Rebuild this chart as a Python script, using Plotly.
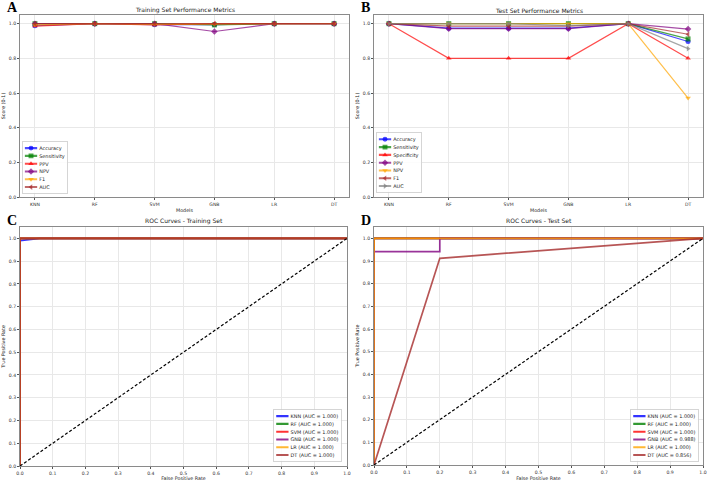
import plotly.graph_objects as go

# ---------------- data ----------------
models = ["KNN", "RF", "SVM", "GNB", "LR", "DT"]

train_metric_names = ["Accuracy", "Sensitivity", "PPV", "NPV", "F1", "AUC"]
train_accuracy = [0.988, 1.0, 0.994, 0.994, 1.0, 1.0]
train_sensitivity = [1.0, 1.0, 1.0, 0.993, 1.0, 1.0]
train_ppv = [0.986, 1.0, 0.993, 1.0, 1.0, 1.0]
train_npv = [1.0, 1.0, 1.0, 0.955, 1.0, 1.0]
train_f1 = [0.993, 1.0, 0.996, 0.996, 1.0, 1.0]
train_auc = [1.0, 1.0, 1.0, 1.0, 1.0, 1.0]

test_metric_names = ["Accuracy", "Sensitivity", "Specificity", "PPV", "NPV", "F1", "AUC"]
test_accuracy = [1.0, 0.974, 0.974, 0.974, 1.0, 0.897]
test_sensitivity = [1.0, 1.0, 1.0, 1.0, 1.0, 0.912]
test_specificity = [1.0, 0.8, 0.8, 0.8, 1.0, 0.8]
test_ppv = [1.0, 0.971, 0.971, 0.971, 1.0, 0.969]
test_npv = [1.0, 1.0, 1.0, 1.0, 1.0, 0.571]
test_f1 = [1.0, 0.986, 0.986, 0.986, 1.0, 0.939]
test_auc = [1.0, 1.0, 1.0, 0.988, 1.0, 0.856]

roc_models = ["KNN", "RF", "SVM", "GNB", "LR", "DT"]
train_auc_labels = [1.000, 1.000, 1.000, 1.000, 1.000, 1.000]
test_auc_labels = [1.000, 1.000, 1.000, 0.988, 1.000, 0.856]

train_roc_fpr = [
    [0.0, 0.0, 0.06, 1.0],
    [0.0, 0.0, 1.0],
    [0.0, 0.0, 1.0],
    [0.0, 0.0, 1.0],
    [0.0, 0.0, 1.0],
    [0.0, 0.0, 1.0],
]
train_roc_tpr = [
    [0.0, 0.99, 1.0, 1.0],
    [0.0, 1.0, 1.0],
    [0.0, 1.0, 1.0],
    [0.0, 1.0, 1.0],
    [0.0, 1.0, 1.0],
    [0.0, 1.0, 1.0],
]
test_roc_fpr = [
    [0.0, 0.0, 1.0],
    [0.0, 0.0, 1.0],
    [0.0, 0.0, 1.0],
    [0.0, 0.0, 0.2, 0.2, 1.0],
    [0.0, 0.0, 1.0],
    [0.0, 0.2, 1.0],
]
test_roc_tpr = [
    [0.0, 1.0, 1.0],
    [0.0, 1.0, 1.0],
    [0.0, 1.0, 1.0],
    [0.0, 0.941, 0.941, 1.0, 1.0],
    [0.0, 1.0, 1.0],
    [0.0, 0.912, 1.0],
]
chance_x = [0.0, 1.0]
chance_y = [0.0, 1.0]

fpr_ticks = [0.0, 0.1, 0.2, 0.3, 0.4, 0.5, 0.6, 0.7, 0.8, 0.9, 1.0]
score_ticks = [0.0, 0.2, 0.4, 0.6, 0.8, 1.0]

# ---------------- styles ----------------
W, H = 708, 481
BASE = {"blue": (0, 0, 255), "green": (0, 128, 0), "red": (255, 0, 0),
        "purple": (128, 0, 128), "orange": (255, 165, 0), "brown": (165, 42, 42),
        "gray": (128, 128, 128)}


def rgba(name, a):
    r, g, b = BASE[name]
    return f"rgba({r},{g},{b},{a})"


color_seq = ["blue", "green", "red", "purple", "orange", "brown", "gray"]
symbol_seq = ["circle", "square", "triangle-up", "diamond", "triangle-down",
              "triangle-left", "triangle-right"]
FONT = "DejaVu Sans"


def dx(a, b):
    return [a / W, b / W]


def dy(top, bottom):
    return [1 - bottom / H, 1 - top / H]


fig = go.Figure()

train_series = [train_accuracy, train_sensitivity, train_ppv, train_npv, train_f1, train_auc]
for i, (name, vals) in enumerate(zip(train_metric_names, train_series)):
    c = rgba(color_seq[i], 0.7)
    fig.add_trace(go.Scatter(
        x=models, y=vals, name=name, mode="lines+markers",
        line=dict(color=c, width=1.2),
        marker=dict(symbol=symbol_seq[i], size=5, color=c),
        xaxis="x", yaxis="y", legend="legend"))

test_series = [test_accuracy, test_sensitivity, test_specificity, test_ppv,
               test_npv, test_f1, test_auc]
for i, (name, vals) in enumerate(zip(test_metric_names, test_series)):
    c = rgba(color_seq[i], 0.7)
    fig.add_trace(go.Scatter(
        x=models, y=vals, name=name, mode="lines+markers",
        line=dict(color=c, width=1.2),
        marker=dict(symbol=symbol_seq[i], size=5, color=c),
        xaxis="x2", yaxis="y2", legend="legend2"))

for i, m in enumerate(roc_models):
    fig.add_trace(go.Scatter(
        x=train_roc_fpr[i], y=train_roc_tpr[i], mode="lines",
        name=f"{m} (AUC = {train_auc_labels[i]:.3f})",
        line=dict(color=rgba(color_seq[i], 0.8), width=1.7),
        xaxis="x3", yaxis="y3", legend="legend3"))
fig.add_trace(go.Scatter(x=chance_x, y=chance_y, mode="lines", showlegend=False,
                         line=dict(color="black", width=1.2, dash="3px,2px"),
                         xaxis="x3", yaxis="y3"))

for i, m in enumerate(roc_models):
    fig.add_trace(go.Scatter(
        x=test_roc_fpr[i], y=test_roc_tpr[i], mode="lines",
        name=f"{m} (AUC = {test_auc_labels[i]:.3f})",
        line=dict(color=rgba(color_seq[i], 0.8), width=1.7),
        xaxis="x4", yaxis="y4", legend="legend4"))
fig.add_trace(go.Scatter(x=chance_x, y=chance_y, mode="lines", showlegend=False,
                         line=dict(color="black", width=1.2, dash="3px,2px"),
                         xaxis="x4", yaxis="y4"))

axis_common = dict(showline=True, mirror=True, linecolor="#8a8a8a", linewidth=1,
                   showgrid=True, gridcolor="#e8e8e8", gridwidth=0.7,
                   ticks="outside", ticklen=2, tickcolor="#555",
                   tickfont=dict(size=4.6, family=FONT, color="#333"),
                   zeroline=False, automargin=False)
title_font = dict(size=4.8, family=FONT, color="#222")

layout = dict(
    width=W, height=H, margin=dict(l=0, r=0, t=0, b=0),
    paper_bgcolor="white", plot_bgcolor="white", showlegend=True,
    font=dict(family=FONT),
    xaxis=dict(axis_common, domain=dx(20, 349), anchor="y", type="category",
               range=[-0.25, 5.25],
               title=dict(text="Models", font=title_font, standoff=3)),
    yaxis=dict(axis_common, domain=dy(15, 197), anchor="x", range=[0, 1.05],
               tickvals=score_ticks, tickformat=".1f",
               title=dict(text="Score (0-1)", font=title_font, standoff=3)),
    xaxis2=dict(axis_common, domain=dx(374, 703), anchor="y2", type="category",
                range=[-0.25, 5.25],
                title=dict(text="Models", font=title_font, standoff=3)),
    yaxis2=dict(axis_common, domain=dy(15, 197), anchor="x2", range=[0, 1.05],
                tickvals=score_ticks, tickformat=".1f",
                title=dict(text="Score (0-1)", font=title_font, standoff=3)),
    xaxis3=dict(axis_common, domain=dx(20, 347), anchor="y3", range=[0, 1],
                tickvals=fpr_ticks, tickformat=".1f",
                title=dict(text="False Positive Rate", font=title_font, standoff=3)),
    yaxis3=dict(axis_common, domain=dy(227, 466), anchor="x3", range=[0, 1.05],
                tickvals=fpr_ticks, tickformat=".1f",
                title=dict(text="True Positive Rate", font=title_font, standoff=3)),
    xaxis4=dict(axis_common, domain=dx(374, 703), anchor="y4", range=[0, 1],
                tickvals=fpr_ticks, tickformat=".1f",
                title=dict(text="False Positive Rate", font=title_font, standoff=3)),
    yaxis4=dict(axis_common, domain=dy(227, 465), anchor="x4", range=[0, 1.05],
                tickvals=fpr_ticks, tickformat=".1f",
                title=dict(text="True Positive Rate", font=title_font, standoff=3)),
)

leg_common = dict(font=dict(size=12, family=FONT, color="#222"),
                  bgcolor="rgba(255,255,255,0.85)", bordercolor="#cccccc",
                  borderwidth=2, itemsizing="constant", tracegroupgap=0)
layout["legend"] = dict(leg_common, x=22 / W, y=1 - 195 / H, xanchor="left", yanchor="bottom")
layout["legend2"] = dict(leg_common, x=376 / W, y=1 - 194 / H, xanchor="left", yanchor="bottom")
layout["legend3"] = dict(leg_common, x=343 / W, y=1 - 463 / H, xanchor="right", yanchor="bottom")
layout["legend4"] = dict(leg_common, x=700 / W, y=1 - 463 / H, xanchor="right", yanchor="bottom")

fig.update_layout(**layout)

# subplot titles and panel letters
titles = [("Training Set Performance Metrics", (20 + 349) / 2, 10),
          ("Test Set Performance Metrics", (374 + 703) / 2, 10),
          ("ROC Curves - Training Set", (20 + 347) / 2, 221),
          ("ROC Curves - Test Set", (374 + 703) / 2, 221)]
for text, cx, cy in titles:
    fig.add_annotation(text=text, x=cx / W, y=1 - cy / H, xref="paper", yref="paper",
                       showarrow=False, xanchor="center", yanchor="middle",
                       font=dict(size=6, family=FONT, color="#222"))

letters = [("A", 12, 7), ("B", 366, 7), ("C", 12, 221), ("D", 366, 221)]
for text, cx, cy in letters:
    fig.add_annotation(text=f"<b>{text}</b>", x=cx / W, y=1 - cy / H, xref="paper",
                       yref="paper", showarrow=False, xanchor="center", yanchor="middle",
                       font=dict(size=14, family="Liberation Serif", color="black"))

post = r"""
var gd = document.getElementById('{plot_id}');
var cfg = {legend:'l', legend2:'l', legend3:'r', legend4:'r'};
var s = 0.41;
Object.keys(cfg).forEach(function(k){
  var g = gd.querySelector('g.' + k);
  if(!g) return;
  var t = g.getAttribute('transform') || '';
  var m = /translate\(\s*([-\d.e]+)[ ,]+([-\d.e]+)\s*\)/.exec(t);
  if(!m) return;
  var tx = parseFloat(m[1]), ty = parseFloat(m[2]);
  var bg = g.querySelector('rect.bg');
  if(!bg) return;
  var w = parseFloat(bg.getAttribute('width')), h = parseFloat(bg.getAttribute('height'));
  var nx = cfg[k] == 'r' ? tx + w*(1-s) : tx;
  var ny = ty + h*(1-s);
  g.setAttribute('transform', 'translate(' + nx + ',' + ny + ') scale(' + s + ')');
});
"""

fig.write_html("out.html", post_script=post, config={"displayModeBar": False})
